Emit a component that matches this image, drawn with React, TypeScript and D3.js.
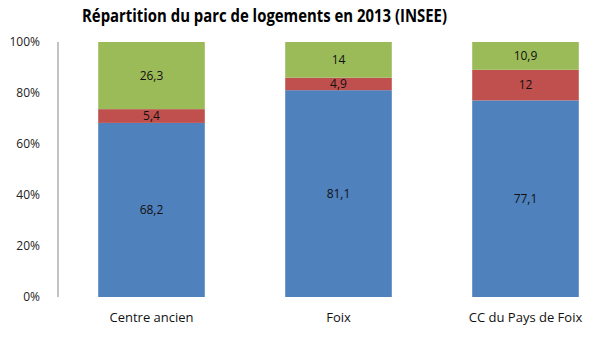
import * as d3 from "d3";

const categories = ["Centre ancien", "Foix", "CC du Pays de Foix"];
const series = ["s1", "s2", "s3"];
// bottom to top: blue, red, green
const valuesBlue = [68.2, 81.1, 77.1];
const valuesRed = [5.4, 4.9, 12];
const valuesGreen = [26.3, 14, 10.9];
const yTicks = [0, 20, 40, 60, 80, 100];
const colors = ["#4F81BD", "#C0504D", "#9BBB59"];

const W = 614;
const H = 354;
const margin = { top: 42, right: -5, bottom: 57, left: 58 };

export default function App() {
  const rows = categories.map((c, i) => {
    const vals = [valuesBlue[i], valuesRed[i], valuesGreen[i]];
    const total = d3.sum(vals);
    const row: any = { cat: c, raw: vals };
    series.forEach((s, j) => (row[s] = (vals[j] / total) * 100));
    return row;
  });

  const stacked = d3.stack<any>().keys(series)(rows);

  const x = d3
    .scaleBand()
    .domain(categories)
    .range([margin.left, W - margin.right])
    .paddingInner(0.43)
    .paddingOuter(0.215);

  const y = d3
    .scaleLinear()
    .domain([0, 100])
    .range([H - margin.bottom, margin.top]);

  const fmt = (v: number) => String(v).replace(".", ",");
  const font = "'Open Sans', 'DejaVu Sans', sans-serif";

  return (
    <svg
      width={W}
      height={H}
      style={{ position: "absolute", left: 0, top: 0, background: "#fff" }}
    >
      <text
        x={82}
        y={22}
        textLength={365}
        lengthAdjust="spacingAndGlyphs"
        fontFamily={font}
        fontWeight="bold"
        fontSize={17}
        fill="#000"
      >
        Répartition du parc de logements en 2013 (INSEE)
      </text>

      {yTicks.map((t) => (
        <text
          key={t}
          x={40}
          y={y(t)}
          dy="0.35em"
          textAnchor="end"
          fontFamily={font}
          fontSize={12}
          fill="#222"
        >
          {t}%
        </text>
      ))}
      <line
        x1={margin.left}
        x2={margin.left}
        y1={y(100)}
        y2={y(0)}
        stroke="#888"
        strokeWidth={1}
      />

      {stacked.map((layer, j) => (
        <g key={layer.key} fill={colors[j]}>
          {layer.map((d, i) => (
            <g key={i}>
              <rect
                x={x(d.data.cat)}
                y={y(d[1])}
                width={x.bandwidth()}
                height={y(d[0]) - y(d[1])}
              />
              <text
                x={(x(d.data.cat) as number) + x.bandwidth() / 2}
                y={(y(d[0]) + y(d[1])) / 2}
                dy="0.35em"
                textAnchor="middle"
                fontFamily={font}
                fontSize={12}
                fill="#111"
              >
                {fmt(d.data.raw[j])}
              </text>
            </g>
          ))}
        </g>
      ))}

      {categories.map((c) => (
        <text
          key={c}
          x={(x(c) as number) + x.bandwidth() / 2}
          y={y(0) + 25}
          textAnchor="middle"
          fontFamily={font}
          fontSize={13}
          fill="#111"
        >
          {c}
        </text>
      ))}
    </svg>
  );
}
